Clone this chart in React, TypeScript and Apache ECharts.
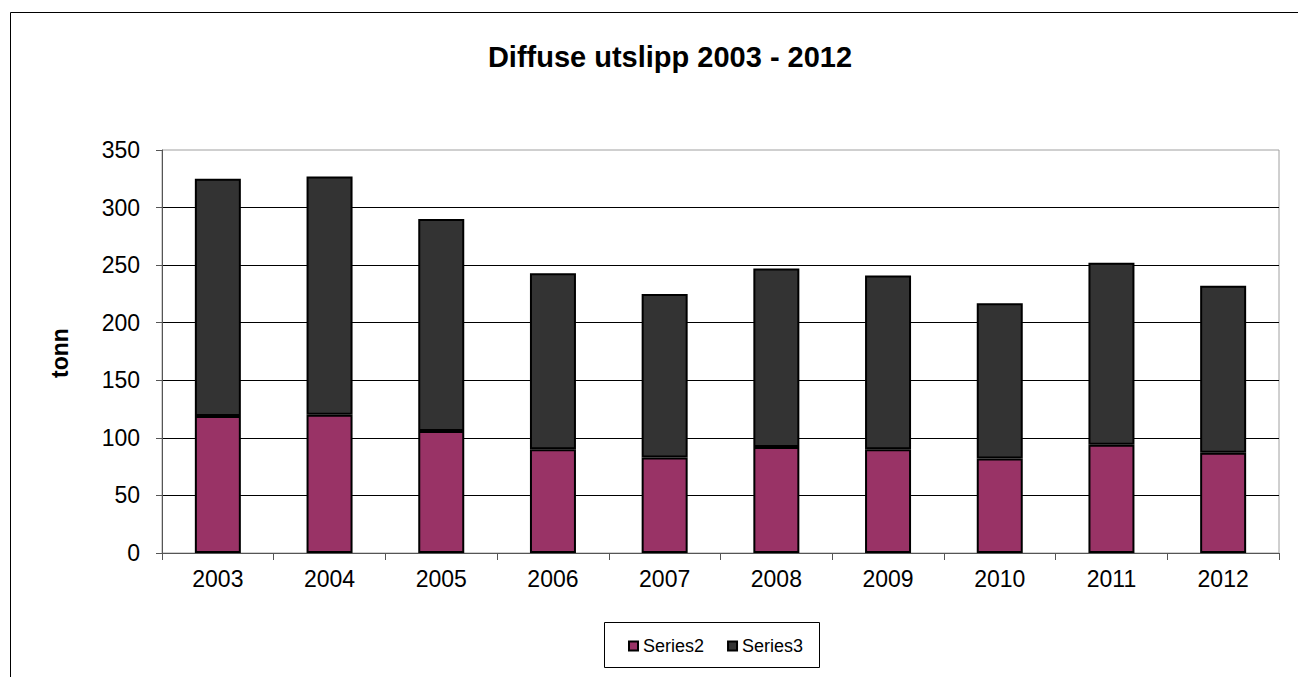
import React, { useEffect, useRef } from "react";
import * as echarts from "echarts";

const years = ["2003", "2004", "2005", "2006", "2007", "2008", "2009", "2010", "2011", "2012"];
const series2 = [119, 120, 106, 90, 83, 92, 90, 82, 94, 87];
const series3 = [206, 207, 184, 153, 142, 155, 151, 135, 158, 145];
const yTicks = { min: 0, max: 350, interval: 50 };

const FONT = "'Liberation Sans', Arial, sans-serif";

export default function App() {
  const ref = useRef<HTMLDivElement>(null);

  useEffect(() => {
    if (!ref.current) return;
    const chart = echarts.init(ref.current, undefined, { renderer: "svg" });
    chart.setOption({
      animation: false,
      backgroundColor: "#ffffff",
      title: {
        text: "Diffuse utslipp 2003 - 2012",
        left: 665,
        top: 37,
        textAlign: "center",
        textStyle: { fontFamily: FONT, fontSize: 29, fontWeight: "bold", color: "#000" },
      },
      grid: {
        left: 162,
        right: 19,
        top: 150,
        bottom: 124,
        show: true,
        borderColor: "#a0a0a0",
        borderWidth: 1,
        backgroundColor: "#ffffff",
      },
      legend: {
        left: 628,
        top: 637,
        padding: 0,
        itemWidth: 9,
        itemHeight: 9,
        itemGap: 23,
        icon: "rect",
        textStyle: { fontFamily: FONT, fontSize: 18, color: "#000" },
        data: ["Series2", "Series3"],
      },
      xAxis: {
        type: "category",
        data: years,
        boundaryGap: true,
        axisLine: { lineStyle: { color: "#555", width: 1 } },
        axisTick: { show: true, length: 7, lineStyle: { color: "#555" } },
        axisLabel: { fontFamily: FONT, fontSize: 23, color: "#000", margin: 14 },
        splitLine: { show: false },
      },
      yAxis: {
        type: "value",
        min: yTicks.min,
        max: yTicks.max,
        interval: yTicks.interval,
        axisLine: { show: true, lineStyle: { color: "#555", width: 1 } },
        axisTick: { show: true, length: 6, lineStyle: { color: "#555" } },
        axisLabel: { fontFamily: FONT, fontSize: 23, color: "#000", margin: 22 },
        splitLine: { show: true, showMaxLine: false, lineStyle: { color: "#000", width: 1 } },
      },
      series: [
        {
          name: "Series2",
          type: "bar",
          stack: "total",
          barWidth: 46,
          data: series2,
          itemStyle: { color: "#993366", borderColor: "#000", borderWidth: 2 },
        },
        {
          name: "Series3",
          type: "bar",
          stack: "total",
          barWidth: 46,
          data: series3,
          itemStyle: { color: "#333333", borderColor: "#000", borderWidth: 2 },
        },
      ],
      graphic: [
        {
          type: "rect",
          shape: { x: 10.5, y: 12.5, width: 1400, height: 800 },
          style: { fill: "none", stroke: "#000", lineWidth: 1 },
          z: -10,
          silent: true,
        },
        {
          type: "rect",
          shape: { x: 604.5, y: 622.5, width: 215, height: 45 },
          style: { fill: "none", stroke: "#000", lineWidth: 1 },
          silent: true,
        },
        {
          type: "text",
          x: 60,
          y: 353,
          rotation: Math.PI / 2,
          style: {
            text: "tonn",
            fontFamily: FONT,
            fontSize: 23,
            fontWeight: "bold",
            fill: "#000",
            align: "center",
            verticalAlign: "middle",
          },
          silent: true,
        },
      ],
    });
    return () => chart.dispose();
  }, []);

  return (
    <div
      ref={ref}
      style={{ position: "fixed", left: 0, top: 0, width: 1298, height: 677, background: "#fff" }}
    />
  );
}
